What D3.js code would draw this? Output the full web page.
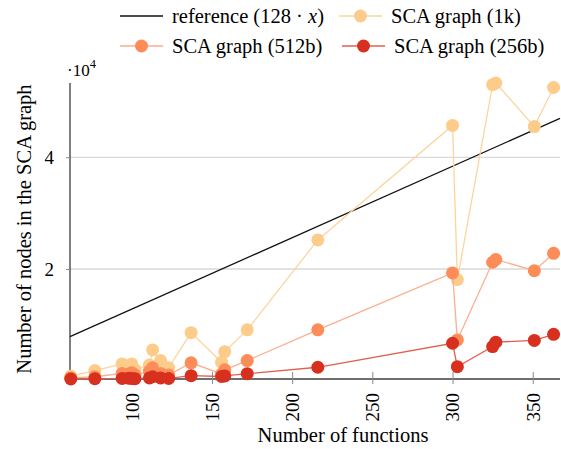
<!DOCTYPE html>
<html><head><meta charset="utf-8">
<script src="https://cdn.jsdelivr.net/npm/d3@7"></script>
<style>body{margin:0;background:#fff}svg{display:block}text{font-family:"Liberation Serif","DejaVu Serif",serif;fill:#000}</style>
</head><body>
<script>
const xs      = [62, 77, 94, 98, 100, 102, 111, 113, 118, 123, 137, 156, 158, 172, 216, 300, 303, 325, 327, 351, 363];
const sca1k   = [800, 1800, 3000, 2500, 3000, 2000, 2800, 5500, 3600, 2300, 8600, 3300, 5200, 9100, 25200, 45700, 18100, 53000, 53300, 45500, 52500];
const sca512b = [500, 700, 1300, 1200, 1400, 1000, 1700, 2300, 1300, 1000, 3200, 1200, 1950, 3600, 9100, 19300, 7300, 21200, 21700, 19700, 22800];
const sca256b = [300, 350, 400, 450, 400, 350, 500, 700, 500, 400, 900, 750, 850, 1250, 2400, 6700, 2500, 6100, 6900, 7200, 8300];
const xTicks = [100, 150, 200, 250, 300, 350];
const yTicks = [20000, 40000];
const refSlope = 128;
const seriesNames = ["SCA graph (1k)", "SCA graph (512b)", "SCA graph (256b)"];
const refName = "reference (128 · x)";

const W = 561, H = 449;
const svg = d3.select("body").append("svg").attr("width", W).attr("height", H);
const x = d3.scaleLinear().domain([61.5, 367]).range([70, 560]);
const y = d3.scaleLinear().domain([300, 53300]).range([379, 83]);

// grid
svg.append("g").selectAll("line").data(yTicks).join("line")
  .attr("x1", 70).attr("x2", 560).attr("y1", d => y(d)).attr("y2", d => y(d))
  .attr("stroke", "#d9d9d9").attr("stroke-width", 1.3);

// y axis
const ya = svg.append("g").attr("transform", "translate(70,0)")
  .call(d3.axisLeft(y).tickValues(yTicks).tickFormat(d => d / 1e4).tickSize(4).tickPadding(12));
ya.select(".domain").attr("stroke", "#000").attr("stroke-width", 1).attr("d", `M0,${y.range()[0]}V${y.range()[1]}`);
ya.selectAll(".tick line").attr("stroke", "#888");
ya.selectAll(".tick text").attr("font-size", 19).style("font-family", '"Liberation Serif",serif');

// x axis
const xa = svg.append("g").attr("transform", "translate(0,379)")
  .call(d3.axisBottom(x).tickValues(xTicks).tickSize(0));
xa.select(".domain").attr("stroke", "#6e6e6e").attr("stroke-width", 2).attr("d", `M70,0H560`);
xa.selectAll(".tick").append("line").attr("y1", -7).attr("y2", 5).attr("stroke", "#888").attr("stroke-width", 1);
xa.selectAll(".tick text").attr("font-size", 19).style("font-family", '"Liberation Serif",serif')
  .attr("transform", "rotate(-90)").attr("text-anchor", "end").attr("x", -14).attr("y", 0).attr("dy", "0.33em");

// reference line
svg.append("path").datum(x.domain())
  .attr("d", d3.line().x(d => x(d)).y(d => y(refSlope * d)))
  .attr("fill", "none").attr("stroke", "#111").attr("stroke-width", 1.3);

const colors = ["#fdcc8a", "#fc8d59", "#d7301f"];
const lineColors = ["#fdd49e", "#fcae91", "#e0604f"];
const all = [sca1k, sca512b, sca256b];
all.forEach((vals, i) => {
  const pts = xs.map((xv, j) => [xv, vals[j]]);
  svg.append("path").datum(pts)
    .attr("d", d3.line().x(d => x(d[0])).y(d => y(d[1])))
    .attr("fill", "none").attr("stroke", lineColors[i]).attr("stroke-width", 1.3);
  svg.append("g").selectAll("circle").data(pts).join("circle")
    .attr("cx", d => x(d[0])).attr("cy", d => y(d[1])).attr("r", 6.5).attr("fill", colors[i]);
});

// exponent label
const ex = svg.append("text").attr("x", 67).attr("y", 76).attr("font-size", 17);
ex.append("tspan").text("·10");
ex.append("tspan").attr("font-size", 12.5).attr("dy", -8).text("4");

// axis titles
svg.append("text").attr("x", 343).attr("y", 442).attr("text-anchor", "middle").attr("font-size", 20.5).text("Number of functions");
svg.append("text").attr("transform", "translate(31,229) rotate(-90)").attr("text-anchor", "middle").attr("font-size", 20.5).text("Number of nodes in the SCA graph");

// legend
const leg = [
  {name: refName, c: "#111", lc: "#111", marker: false, x: 120, y: 16},
  {name: seriesNames[0], c: colors[0], lc: lineColors[0], marker: true, x: 339, y: 16},
  {name: seriesNames[1], c: colors[1], lc: lineColors[1], marker: true, x: 120, y: 46},
  {name: seriesNames[2], c: colors[2], lc: lineColors[2], marker: true, x: 342, y: 46}
];
leg.forEach(l => {
  const g = svg.append("g").attr("transform", `translate(${l.x},${l.y})`);
  g.append("line").attr("x1", 0).attr("x2", 43).attr("stroke", l.lc).attr("stroke-width", 1.3);
  if (l.marker) g.append("circle").attr("cx", 21.5).attr("r", 6.5).attr("fill", l.c);
  const t = g.append("text").attr("x", 52).attr("y", 6.5).attr("font-size", 20.5);
  if (l.name === refName) {
    t.append("tspan").text("reference (128 · ");
    t.append("tspan").attr("font-style", "italic").text("x");
    t.append("tspan").text(")");
  } else t.text(l.name);
});
</script>
</body></html>
